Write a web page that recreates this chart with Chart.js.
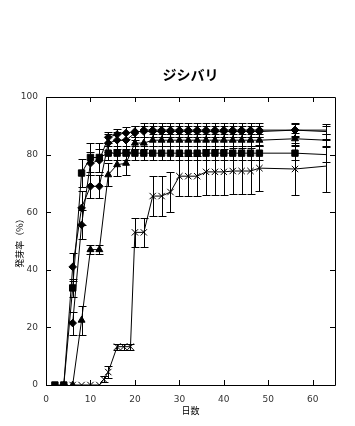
<!DOCTYPE html>
<html>
<head>
<meta charset="utf-8">
<script src="https://cdn.jsdelivr.net/npm/chart.js@4.4.0/dist/chart.umd.min.js"></script>
<style>
  body { margin: 0; background: #fff; }
  #wrap { width: 355px; height: 426px; }
</style>
</head>
<body>
<div id="wrap"><canvas id="chart" width="355" height="426"></canvas></div>
<script>
const xTicks = [0, 10, 20, 30, 40, 50, 60];
const yTicks = [0, 20, 40, 60, 80, 100];

// diamond series (upper)
const daysA = [4, 6, 8, 10, 12, 14, 16, 18, 20, 22, 24, 26, 28, 30, 32, 34, 36, 38, 40, 42, 44, 46, 48, 56, 63];
const valsA = [0, 41, 61.5, 69, 69, 84, 85, 85, 87.5, 88.5, 88.5, 88.5, 88.5, 88.5, 88.5, 88.5, 88.5, 88.5, 88.5, 88.5, 88.5, 88.5, 88.5, 88.5, 88];
const errA  = [0, 5, 6, 4, 4, 3, 3, 3, 2.5, 2.5, 2.5, 2.5, 2.5, 2.5, 2.5, 2.5, 2.5, 2.5, 2.5, 2.5, 2.5, 2.5, 2.5, 2.5, 2.5];

// diamond series (second)
const daysB = [6, 8, 10, 12, 14, 16, 18, 20, 22, 24, 26, 28, 30, 32, 34, 36, 38, 40, 42, 44, 46, 48, 56, 63];
const valsB = [21.5, 55.6, 77, 78, 86, 87, 87.5, 88, 88, 88, 88, 88, 88, 88, 88, 88, 88, 88, 88, 88, 88, 88, 88.5, 88.5];
const errB  = [4, 5, 4, 4, 2, 2, 2, 2, 2, 2, 2, 2, 2, 2, 2, 2, 2, 2, 2, 2, 2, 2, 2, 1.5];

// triangles
const daysT = [6, 8, 10, 12, 14, 16, 18, 20, 22, 24, 26, 28, 30, 32, 34, 36, 38, 40, 42, 44, 46, 48, 56, 63];
const valsT = [0, 22.5, 47, 47, 73, 76.5, 77, 84, 84, 85, 85, 85, 85, 85, 85, 85, 85, 85, 85, 85, 85, 85, 85.5, 85];
const errT  = [0, 5, 1.5, 1.5, 4, 4, 4, 2, 2, 2, 2, 2, 2, 2, 2, 2, 2, 2, 2, 2, 2, 2, 2, 2];

// squares
const daysS = [2, 4, 6, 8, 10, 12, 14, 16, 18, 20, 22, 24, 26, 28, 30, 32, 34, 36, 38, 40, 42, 44, 46, 48, 56, 63];
const valsS = [0, 0, 33.7, 73.6, 79, 79, 80.5, 80.5, 80.5, 80.5, 80.5, 80.5, 80.5, 80.5, 80.5, 80.5, 80.5, 80.5, 80.5, 80.5, 80.5, 80.5, 80.5, 80.5, 80.5, 80];
const errS  = [0, 0, 3, 5, 5, 5, 2.5, 2.5, 2.5, 2.5, 2.5, 2.5, 2.5, 2.5, 2.5, 2.5, 2.5, 2.5, 2.5, 2.5, 2.5, 2.5, 2.5, 2.5, 2.5, 2.5];

// crosses
const daysX = [6, 8, 10, 12, 13, 14, 16, 17.5, 19, 20, 22, 24, 26, 28, 30, 32, 34, 36, 38, 40, 42, 44, 46, 48, 56, 63];
const valsX = [0, 0, 0, 0, 2, 4.5, 13.3, 13.3, 13.3, 53, 53, 65.6, 65.6, 67, 72.5, 72.5, 72.5, 74, 74, 74, 74.3, 74.3, 74.3, 75.3, 75, 76];
const errX  = [0, 0, 0, 0, 1, 2, 1, 1, 1, 5, 5, 7, 7, 7, 7, 7, 7, 8, 8, 8, 8, 8, 8, 8, 9, 9];

function series(days, vals, errs, style, r) {
    return {
        data: days.map((d, i) => ({ x: d, y: vals[i] })),
        errors: errs,
        borderColor: '#000',
        backgroundColor: '#000',
        borderWidth: 1,
        pointStyle: style,
        pointRadius: days.map((d, i) => i === days.length - 1 ? 0 : r),
        pointBorderWidth: 1,
        pointBorderColor: '#000',
        pointBackgroundColor: '#000',
        tension: 0
    };
}

// error bars drawn through the scales
const errorBars = {
    id: 'errorBars',
    afterDatasetsDraw(chart) {
        const { ctx, scales: { x, y } } = chart;
        ctx.save();
        ctx.strokeStyle = '#000';
        ctx.lineWidth = 1;
        chart.data.datasets.forEach(ds => {
            ds.data.forEach((p, i) => {
                const e = ds.errors[i];
                if (!e) return;
                const px = Math.round(x.getPixelForValue(p.x)) + 0.5;
                const top = Math.round(y.getPixelForValue(p.y + e)) + 0.5;
                const bot = Math.round(y.getPixelForValue(p.y - e)) + 0.5;
                ctx.beginPath();
                ctx.moveTo(px, top); ctx.lineTo(px, bot);
                ctx.moveTo(px - 4, top); ctx.lineTo(px + 4, top);
                ctx.moveTo(px - 4, bot); ctx.lineTo(px + 4, bot);
                ctx.stroke();
            });
        });
        ctx.restore();
    }
};

// box with inward ticks on all four sides
const frame = {
    id: 'frame',
    afterDraw(chart) {
        const { ctx, chartArea: a, scales: { x, y } } = chart;
        const t = 5;
        ctx.save();
        ctx.strokeStyle = '#000';
        ctx.lineWidth = 1;
        ctx.beginPath();
        ctx.rect(a.left + 0.5, a.top + 0.5, a.right - a.left, a.bottom - a.top);
        xTicks.forEach(v => {
            const px = Math.round(x.getPixelForValue(v)) + 0.5;
            ctx.moveTo(px, a.bottom); ctx.lineTo(px, a.bottom - t);
            ctx.moveTo(px, a.top); ctx.lineTo(px, a.top + t);
        });
        yTicks.forEach(v => {
            const py = Math.round(y.getPixelForValue(v)) + 0.5;
            ctx.moveTo(a.left, py); ctx.lineTo(a.left + t, py);
            ctx.moveTo(a.right, py); ctx.lineTo(a.right - t, py);
        });
        ctx.stroke();
        ctx.restore();
    }
};

const tickFont = { family: 'DejaVu Sans', size: 9 };
const cjk = 'Noto Sans CJK JP';

new Chart(document.getElementById('chart').getContext('2d'), {
    type: 'line',
    data: {
        datasets: [
            series(daysX, valsX, errX, 'crossRot', 4.5),
            series(daysS, valsS, errS, 'rect', 4.5),
            series(daysT, valsT, errT, 'triangle', 4),
            series(daysB, valsB, errB, 'rectRot', 3.8),
            series(daysA, valsA, errA, 'rectRot', 3.8)
        ]
    },
    options: {
        responsive: false,
        animation: false,
        layout: { padding: { left: 0, right: 20, top: 0, bottom: 0 } },
        scales: {
            x: {
                type: 'linear',
                min: 0, max: 65,
                grid: { display: false, drawTicks: false },
                border: { display: false },
                afterBuildTicks: s => { s.ticks = xTicks.map(v => ({ value: v })); },
                afterFit: s => { s.height = 41; },
                ticks: { font: tickFont, color: '#333', padding: 9, maxRotation: 0 },
                title: { display: true, text: '日数', font: { family: cjk, size: 9 }, color: '#000', padding: { top: 0, bottom: 10.5 } }
            },
            y: {
                min: 0, max: 100,
                grid: { display: false, drawTicks: false },
                border: { display: false },
                afterBuildTicks: s => { s.ticks = yTicks.map(v => ({ value: v })); },
                afterFit: s => { s.width = 46; },
                ticks: { font: tickFont, color: '#333', padding: 8 },
                title: { display: true, text: '発芽率（%）', font: { family: cjk, size: 9 }, color: '#000', padding: { top: 14.5, bottom: 0 } }
            }
        },
        plugins: {
            legend: { display: false },
            tooltip: { enabled: false },
            title: {
                display: true,
                text: 'ジシバリ',
                fullSize: false,
                color: '#000',
                font: { family: cjk, size: 14, weight: 'bold' },
                padding: { top: 66, bottom: 14.2 }
            }
        }
    },
    plugins: [errorBars, frame]
});
</script>
</body>
</html>
